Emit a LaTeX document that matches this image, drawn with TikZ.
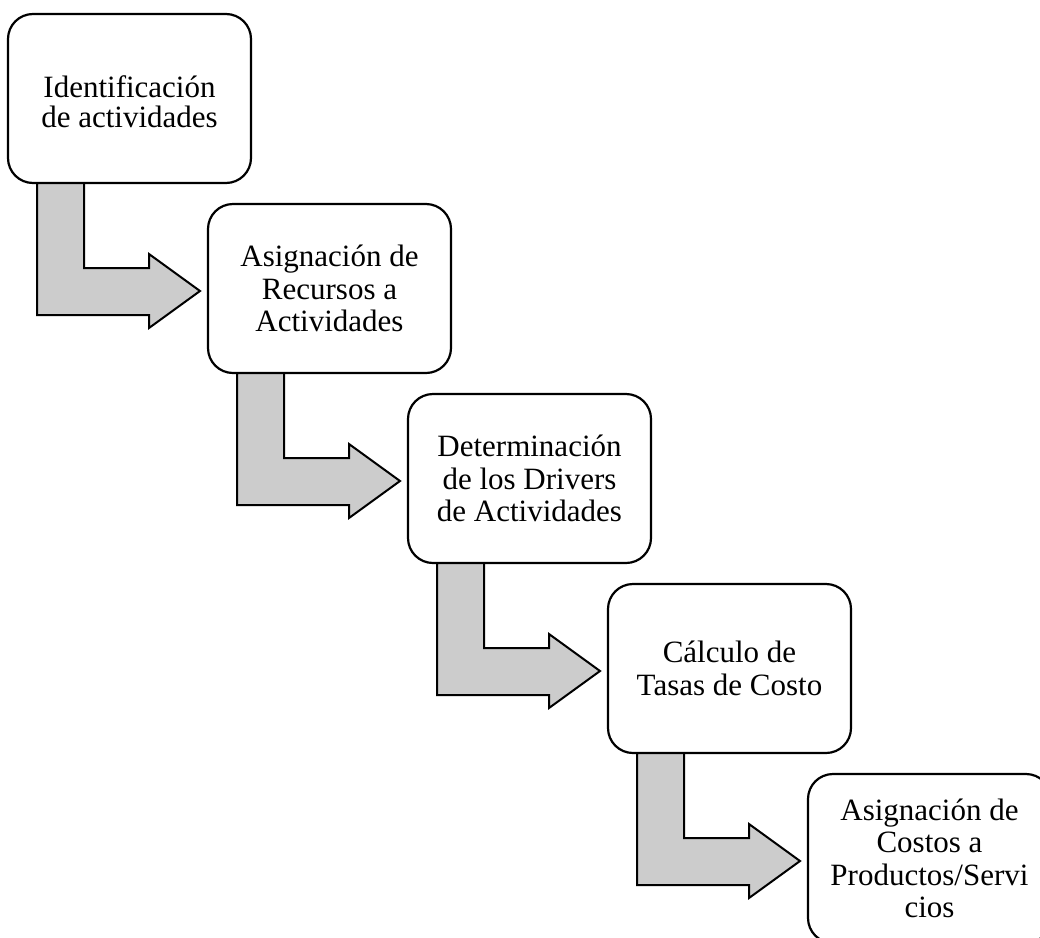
\documentclass[tikz,border=0pt]{standalone}
\usepackage{fontspec}
\setmainfont{Liberation Serif}
\usetikzlibrary{calc}
\definecolor{arrowgray}{RGB}{204,204,204}
\begin{document}
\begin{tikzpicture}[x=1pt,y=-1pt,
  stepbox/.style={draw, line width=2.2pt, rounded corners=25pt, fill=white,
    minimum width=243pt, minimum height=169pt, align=center, inner sep=0pt,
    outer sep=0pt, font=\fontsize{31}{32.5}\selectfont},
  bentarrow/.style={draw, line width=2pt, fill=arrowgray, line join=miter}]
\path[use as bounding box] (0,0) rectangle (1040,937);
\clip (0,0) rectangle (1040,937);
\node[stepbox, font=\fontsize{31}{30}\selectfont] (b1) at (129.5,98.5) {\rule{0pt}{29pt}Identificación\\de actividades};
\node[stepbox] (b2) at (329.5,288.5) {Asignación de\\Recursos a\\Actividades};
\node[stepbox] (b3) at (529.5,478.5) {Determinación\\de los Drivers\\de Actividades};
\node[stepbox] (b4) at (729.5,668.5) {Cálculo de\\Tasas de Costo};
\node[stepbox] (b5) at (929.5,858.5) {Asignación de\\Costos a\\Productos/Servi\\cios};
\foreach \a/\b in {b1/b2,b2/b3,b3/b4,b4/b5}{
  \draw[bentarrow] ($(\a.south west)+(29,0)$) -- ($(\a.south west)+(76,0)$)
    -- ($(\a.south west)+(76,85)$) -- ($(\a.south west)+(141,85)$)
    -- ($(\a.south west)+(141,71)$) -- ($(\b.west)+(-8,2.5)$)
    -- ($(\a.south west)+(141,145)$) -- ($(\a.south west)+(141,132)$)
    -- ($(\a.south west)+(29,132)$) -- cycle;
}
\end{tikzpicture}
\end{document}
